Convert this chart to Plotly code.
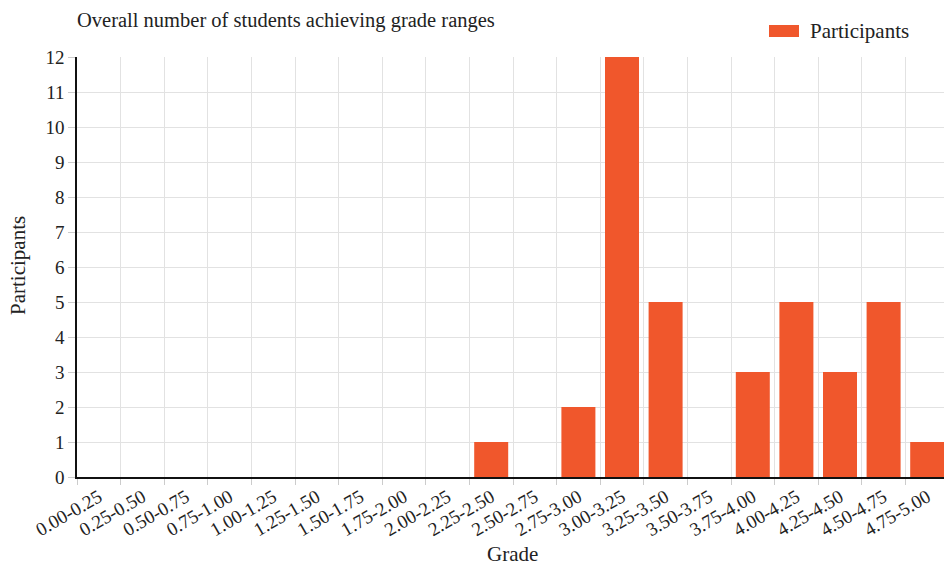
import plotly.graph_objects as go

categories = ["0.00-0.25", "0.25-0.50", "0.50-0.75", "0.75-1.00", "1.00-1.25",
              "1.25-1.50", "1.50-1.75", "1.75-2.00", "2.00-2.25", "2.25-2.50",
              "2.50-2.75", "2.75-3.00", "3.00-3.25", "3.25-3.50", "3.50-3.75",
              "3.75-4.00", "4.00-4.25", "4.25-4.50", "4.50-4.75", "4.75-5.00"]
participants = [0, 0, 0, 0, 0, 0, 0, 0, 0, 1, 0, 2, 12, 5, 0, 3, 5, 3, 5, 1]
y_ticks = list(range(0, 13))
series_name = "Participants"

FONT = "Liberation Serif"
BAR_COLOR = "#F0572C"
TXT = "#222"

W, H = 949, 565
L, R, T, B = 77, 0, 57, 88
PW, PH = W - L - R, H - T - B


def px_x(x):
    return (x - L) / PW


def px_y(y):
    return (H - B - y) / PH


fig = go.Figure()
fig.add_trace(go.Bar(
    x=categories, y=participants, name=series_name,
    marker=dict(color=BAR_COLOR, line=dict(width=0)),
    showlegend=False, hoverinfo="skip",
))

fig.update_layout(
    width=W, height=H,
    margin=dict(l=L, r=R, t=T, b=B, autoexpand=False),
    paper_bgcolor="white", plot_bgcolor="white",
    font=dict(family=FONT, size=19, color=TXT),
    bargap=0.22,
    title=dict(text="Overall number of students achieving grade ranges",
               x=77/W, xanchor="left", y=1-20/H, yanchor="middle",
               font=dict(family=FONT, size=20.5, color=TXT)),
    xaxis=dict(
        type="category", tickson="boundaries", showgrid=True, gridcolor="#e2e2e2",
        ticks="outside", ticklen=6, tickcolor="#ccc", tickangle=-30,
        showline=True, linecolor="#111", linewidth=1.5, automargin=False,
        tickfont=dict(family=FONT, size=19, color=TXT),
    ),
    yaxis=dict(
        range=[0, 12], tickvals=y_ticks, showgrid=True, gridcolor="#e2e2e2",
        ticks="outside", ticklen=7, tickcolor="#ccc",
        showline=True, linecolor="#111", linewidth=1.5, zeroline=False,
        automargin=False,
        tickfont=dict(family=FONT, size=19, color=TXT),
    ),
    shapes=[
        dict(type="rect", xref="paper", yref="paper",
             x0=px_x(769), x1=px_x(799), y0=px_y(37), y1=px_y(25),
             fillcolor=BAR_COLOR, line=dict(width=0)),
    ],
    annotations=[
        dict(text=series_name, x=px_x(808), xref="paper", y=px_y(31), yref="paper",
             xanchor="left", yanchor="middle", showarrow=False,
             font=dict(family=FONT, size=21, color=TXT)),
        dict(text="Grade", x=px_x(512), xref="paper", y=px_y(554), yref="paper",
             xanchor="center", yanchor="middle", showarrow=False,
             font=dict(family=FONT, size=21, color=TXT)),
        dict(text="Participants", x=px_x(18), xref="paper", y=px_y(266), yref="paper",
             xanchor="center", yanchor="middle", textangle=-90, showarrow=False,
             font=dict(family=FONT, size=21, color=TXT)),
    ],
)

fig.write_html("out.html", config={"displayModeBar": False})

with open("out.html", "r", encoding="utf-8") as f:
    html = f.read()
html = html.replace("<head>", "<head><style>html,body{margin:0;padding:0;overflow:hidden;}</style>", 1)
with open("out.html", "w", encoding="utf-8") as f:
    f.write(html)
